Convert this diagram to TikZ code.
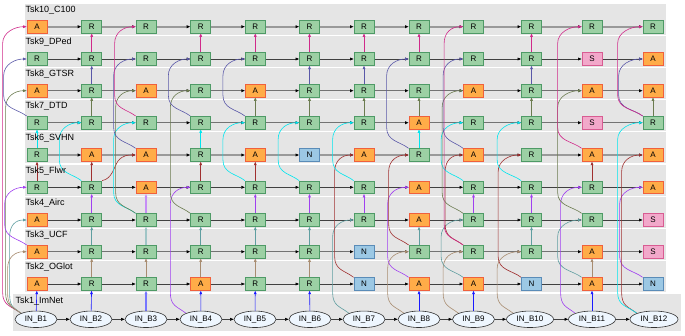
\documentclass[tikz,border=0pt]{standalone}
\usepackage{fontspec}
\setmainfont{Liberation Sans}
\usetikzlibrary{arrows.meta,calc,shapes.geometric}
\pgfdeclarelayer{bg}\pgfdeclarelayer{edges}
\pgfsetlayers{bg,edges,main}
\definecolor{clbg}{HTML}{E5E5E5}
\definecolor{Rf}{HTML}{9CD0A4}
\definecolor{Rd}{HTML}{4E9A66}
\definecolor{Af}{HTML}{FFAC48}
\definecolor{Ad}{HTML}{F0603C}
\definecolor{Nf}{HTML}{9CC8E4}
\definecolor{Nd}{HTML}{5A8CB8}
\definecolor{Sf}{HTML}{F2A8CA}
\definecolor{Sd}{HTML}{D85C92}
\definecolor{INf}{HTML}{EEF6FE}
\definecolor{c2}{HTML}{1A1AFF}
\definecolor{c3}{HTML}{A88C70}
\definecolor{c4}{HTML}{5F9EA0}
\definecolor{c5}{HTML}{A040F0}
\definecolor{c6}{HTML}{A03030}
\definecolor{c7}{HTML}{00E5EE}
\definecolor{c8}{HTML}{6B7B4F}
\definecolor{c9}{HTML}{5A58A8}
\definecolor{c10}{HTML}{D02A8A}
\tikzset{
 box/.style={rectangle, minimum width=20pt, minimum height=12.6pt, inner sep=0pt, line width=0.8pt, font=\fontsize{8}{8}\selectfont},
 tR/.style={box, fill=Rf, draw=Rd},
 tA/.style={box, fill=Af, draw=Ad},
 tN/.style={box, fill=Nf, draw=Nd},
 tS/.style={box, fill=Sf, draw=Sd},
 inn/.style={ellipse, draw=black!80, fill=INf, line width=0.6pt, minimum height=16.5pt, inner sep=0pt, font=\fontsize{8}{8}\selectfont},
 lbl/.style={anchor=west, inner sep=0pt, font=\fontsize{9}{9}\selectfont},
 hz/.style={draw=black!75, line width=0.6pt, -{Triangle[length=3.6pt,width=2.8pt,color=black]}},
 hzm/.style={draw=black!55, line width=1.1pt, -{Triangle[length=3.6pt,width=2.8pt,color=black]}},
 hzk/.style={draw=black!40, line width=1.7pt, -{Triangle[length=3.6pt,width=2.8pt,color=black]}},
 vt/.style={line width=0.6pt, -{Triangle[length=3.4pt,width=2.6pt]}},
 vtk/.style={line width=1.4pt, -{Triangle[length=3.4pt,width=2.6pt]}},
 cvs/.style={line width=0.6pt, -{Triangle[length=3.4pt,width=2.6pt]}},
}
\newcommand\nd[3]{\pgfmathsetmacro\xx{{37,91.7,146,200.7,255.3,309.5,364,419,473.5,531.5,592,653}[#3-1]}\pgfmathsetmacro\yy{{15.7,51,83.3,115,147.7,180,212.3,244.3,276,308.3}[#2-1]}\node[t#1] (n#2-#3) at (\xx,\yy) {#1};}
\newcommand\mkrow[2]{\foreach \t [count=\c] in {#2} {\edef\tmp{\noexpand\nd{\t}{#1}{\c}}\tmp}}
\newcommand\vv[2]{\pgfmathtruncatemacro\pr{#1-1}\ifnum#1=2 \draw[vt,c2] (in#2) -- (n2-#2);\else \draw[vt,c#1] (n\pr-#2) -- (n#1-#2);\fi}
\newcommand\cv[4]{\draw[cvs,c#1] let \p1=(#2.north west), \p2=(#3.west) in (\p1) .. controls ({\x1-9},{\y1+7}) and ({\x2-#4},{\y1+7}) .. ({\x2-#4},{\y1+21}) -- ({\x2-#4},{\y2-17}) .. controls ({\x2-#4},{\y2-5}) and ({\x2-11},{\y2}) .. (\p2);}
\begin{document}
\begin{tikzpicture}[x=1pt,y=1pt]
\useasboundingbox (0,0) rectangle (685,335);
% clusters
\begin{pgfonlayer}{bg}
\fill[white] (0,0) rectangle (685,335);
\foreach \yy in {51,83.3,115,147.7,180,212.3,244.3,276,308.3}{\fill[clbg] (24.5,\yy-8.4) rectangle (665.5,\yy+22.6);}
\fill[clbg] (13,4) rectangle (681,41.5);
\end{pgfonlayer}
\node[lbl] (l10) at (25.5,324.7) {Tsk10\_C100};
\node[lbl] (l9) at (25.5,292.4) {Tsk9\_DPed};
\node[lbl] (l8) at (25.5,260.7) {Tsk8\_GTSR};
\node[lbl] (l7) at (25.5,228.7) {Tsk7\_DTD};
\node[lbl] (l6) at (25.5,196.4) {Tsk6\_SVHN};
\node[lbl] (l5) at (25.5,164.1) {Tsk5\_Flwr};
\node[lbl] (l4) at (25.5,131.4) {Tsk4\_Airc};
\node[lbl] (l3) at (25.5,99.7) {Tsk3\_UCF};
\node[lbl] (l2) at (25.5,67.4) {Tsk2\_OGlot};
\node[lbl] (l1) at (15.5,34.3) {Tsk1\_ImNet};
% nodes
\mkrow{10}{A,R,R,R,R,R,R,R,R,R,R,R}
\mkrow{9}{R,R,R,R,R,R,R,R,R,R,S,A}
\mkrow{8}{A,R,A,R,A,R,R,R,A,R,A,A}
\mkrow{7}{R,R,R,R,R,R,R,A,R,R,S,R}
\mkrow{6}{R,A,A,R,A,N,A,R,A,R,A,A}
\mkrow{5}{R,R,A,R,R,R,R,A,R,R,R,A}
\mkrow{4}{A,R,R,R,R,R,R,A,R,R,R,S}
\mkrow{3}{A,R,R,R,R,R,N,R,R,R,A,S}
\mkrow{2}{A,R,R,A,R,R,N,A,A,N,A,N}
\foreach \x/\w [count=\c] in {36/42,91/42,146/42,201/42,255/42,310/42,364/42,419/42,473.5/42,530/47,592/47,654/48}
 {\node[inn,minimum width=\w pt] (in\c) at (\x,15.7) {IN\_B\c};}
\begin{pgfonlayer}{edges}
\foreach \r/\s in {10/hzk,9/hz,8/hzm,7/hzm,6/hzk,5/hz,4/hz,3/hzm,2/hz}
 {\foreach \c in {1,...,11} {\pgfmathtruncatemacro\cn{\c+1}\draw[\s] (n\r-\c) -- (n\r-\cn);}}
\foreach \c in {1,...,11} {\pgfmathtruncatemacro\cn{\c+1}\draw[hz] (in\c) -- (in\cn);}
% vertical
\vv{2}{1}\vv{6}{1}\vv{7}{1}
\vv{2}{2}\vv{3}{2}\vv{4}{2}\vv{5}{2}\vv{6}{2}\vv{8}{2}\vv{9}{2}\vv{10}{2}
\draw[vtk,c2!60] (in3) -- (n2-3);\vv{3}{3}\draw[vtk,c4!60] (n3-3) -- (n4-3);\draw[vtk,c5!60] (n4-3) -- (n5-3);
\vv{2}{4}\vv{3}{4}\vv{4}{4}\vv{6}{4}\vv{7}{4}\vv{10}{4}
\vv{2}{5}\vv{3}{5}\vv{4}{5}\vv{5}{5}\vv{6}{5}\vv{8}{5}\vv{10}{5}
\vv{2}{6}\vv{3}{6}\vv{4}{6}\vv{5}{6}\vv{8}{6}\vv{9}{6}\vv{10}{6}
\vv{5}{7}\vv{8}{7}\vv{9}{7}\vv{10}{7}
\vv{2}{8}\vv{4}{8}\vv{7}{8}\vv{8}{8}\vv{10}{8}
\vv{2}{9}\vv{5}{9}
\vv{4}{10}\vv{5}{10}\vv{8}{10}\vv{9}{10}\vv{10}{10}
\vv{2}{11}\vv{3}{11}\vv{6}{11}
\vv{8}{12}
% curves
\cv{10}{in1}{n10-1}{24}\cv{8}{in1}{n8-1}{21}\cv{4}{in1}{n4-1}{17}\cv{3}{in1}{n3-1}{19}
\cv{5}{n3-1}{n5-1}{22}\cv{9}{n7-1}{n9-1}{23}
\cv{7}{n5-2}{n7-2}{22}
\draw[cvs,c6] (n5-2.north east) .. controls (112,156) and (114,168) .. (118,174) .. controls (123,180) and (128,180) .. (n6-3.west);
\cv{7}{n4-3}{n7-3}{22}\cv{8}{n4-3}{n8-3}{20}\cv{9}{n6-3}{n9-3}{22}\cv{10}{n7-3}{n10-3}{21}
\cv{5}{in4}{n5-4}{20}\cv{8}{n4-4}{n8-4}{20}\cv{9}{n7-4}{n9-4}{22}
\cv{7}{n5-5}{n7-5}{22}\cv{9}{n7-5}{n9-5}{22}
\cv{7}{n5-6}{n7-6}{21}
\cv{4}{in7}{n4-7}{21}\cv{6}{n2-7}{n6-7}{19}\cv{7}{n5-7}{n7-7}{21}
\cv{3}{in8}{n3-8}{21}\cv{5}{n2-8}{n5-8}{21}\cv{6}{n3-8}{n6-8}{20}\cv{9}{n6-8}{n9-8}{22}
\cv{3}{in9}{n3-9}{20}\cv{4}{n2-9}{n4-9}{22}\cv{6}{n3-9}{n6-9}{18}\cv{7}{n5-9}{n7-9}{22}
\cv{8}{n4-9}{n8-9}{21}\cv{9}{n6-9}{n9-9}{20}\cv{10}{n3-9}{n10-9}{19}
\cv{3}{in10}{n3-10}{24}\cv{6}{n2-10}{n6-10}{23}\cv{7}{n5-10}{n7-10}{24}
\cv{4}{n2-11}{n4-11}{24}\cv{5}{in11}{n5-11}{21}\cv{8}{n4-11}{n8-11}{24}\cv{10}{n6-11}{n10-11}{24}
\cv{5}{n2-12}{n5-12}{23}\cv{6}{in12}{n6-12}{21}\cv{7}{in12}{n7-12}{25}\cv{9}{n7-12}{n9-12}{24}\cv{10}{n7-12}{n10-12}{25}
\end{pgfonlayer}
\end{tikzpicture}
\end{document}
